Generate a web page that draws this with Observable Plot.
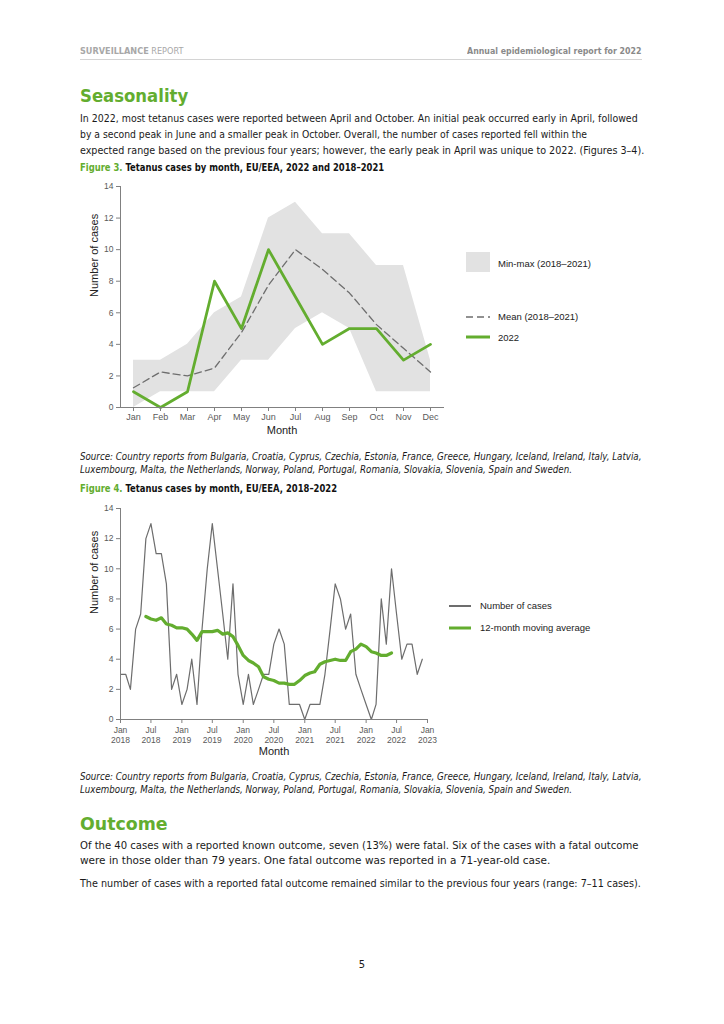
<!DOCTYPE html>
<html>
<head>
<meta charset="utf-8">
<script src="https://cdn.jsdelivr.net/npm/d3@7"></script>
<script src="https://cdn.jsdelivr.net/npm/@observablehq/plot@0.6"></script>
<style>
  html, body { margin: 0; padding: 0; background: #fff; }
  #page { position: relative; width: 724px; height: 1024px; overflow: hidden;
          font-family: "DejaVu Sans Condensed", "DejaVu Sans", sans-serif; color: #1a1a1a; }
  .ln { position: absolute; left: 80px; white-space: nowrap; transform-origin: 0 50%; }
  .body { font-size: 11px; line-height: 16px; }
  .head { font-size: 18px; line-height: 24px; font-weight: bold; color: #63ad2f; }
  .cap { font-size: 11px; line-height: 16px; font-weight: bold; color: #111; }
  .cap span { color: #63ad2f; }
  .src { font-size: 10px; line-height: 13px; font-style: italic; }
  .hdr { font-size: 8px; line-height: 12px; }
  .chart { position: absolute; }
  .leg { position: absolute; font-family: "Liberation Sans", Arial, sans-serif; font-size: 9.5px;
         line-height: 12px; color: #222; white-space: nowrap; }
  .sw { position: absolute; }
</style>
</head>
<body>
<div id="page">
  <div class="ln hdr" data-w="103" style="top:46px;color:#a8a8a8"><b>SURVEILLANCE</b> REPORT</div>
  <div class="ln hdr" data-w="175" style="top:46px;left:auto;right:82px;transform-origin:100% 50%;color:#8a8a8a;font-weight:bold">Annual epidemiological report for 2022</div>
  <div style="position:absolute;left:80px;top:59px;width:562px;height:1px;background:#d4d4d4"></div>

  <div class="ln head" data-w="108" style="top:84px">Seasonality</div>
  <div class="ln body" data-w="558" style="top:111px">In 2022, most tetanus cases were reported between April and October. An initial peak occurred early in April, followed</div>
  <div class="ln body" data-w="507" style="top:127px">by a second peak in June and a smaller peak in October. Overall, the number of cases reported fell within the</div>
  <div class="ln body" data-w="564" style="top:143px">expected range based on the previous four years; however, the early peak in April was unique to 2022. (Figures 3–4).</div>

  <div class="ln cap g-cap" style="top:160px"><span>Figure 3.</span> Tetanus cases by month, EU/EEA, 2022 and 2018–2021</div>
  <div class="chart" id="fig3" style="left:60px;top:176px"></div>

  <div class="sw" style="left:466px;top:252px;width:24px;height:20px;background:#e2e2e2"></div>
  <div class="leg" style="left:498px;top:258px">Min-max (2018–2021)</div>
  <svg class="sw" style="left:466px;top:312px" width="24" height="10"><line x1="0" y1="5" x2="24" y2="5" stroke="#6e6e6e" stroke-width="1.4" stroke-dasharray="7,4"/></svg>
  <div class="leg" style="left:498px;top:311px">Mean (2018–2021)</div>
  <svg class="sw" style="left:466px;top:332px" width="24" height="10"><line x1="0" y1="5" x2="24" y2="5" stroke="#63ad2f" stroke-width="3"/></svg>
  <div class="leg" style="left:498px;top:332px">2022</div>

  <div class="ln src g-src" style="top:450px">Source: Country reports from Bulgaria, Croatia, Cyprus, Czechia, Estonia, France, Greece, Hungary, Iceland, Ireland, Italy, Latvia,</div>
  <div class="ln src g-src" style="top:463px">Luxembourg, Malta, the Netherlands, Norway, Poland, Portugal, Romania, Slovakia, Slovenia, Spain and Sweden.</div>

  <div class="ln cap g-cap" style="top:481px"><span>Figure 4.</span> Tetanus cases by month, EU/EEA, 2018–2022</div>
  <div class="chart" id="fig4" style="left:60px;top:500px"></div>

  <svg class="sw" style="left:449px;top:601px" width="22" height="10"><line x1="0" y1="5" x2="22" y2="5" stroke="#6d6d6d" stroke-width="2"/></svg>
  <div class="leg" style="left:480px;top:600px">Number of cases</div>
  <svg class="sw" style="left:449px;top:623px" width="22" height="10"><line x1="0" y1="5" x2="22" y2="5" stroke="#63ad2f" stroke-width="3"/></svg>
  <div class="leg" style="left:480px;top:622px">12-month moving average</div>

  <div class="ln src g-src" style="top:770px">Source: Country reports from Bulgaria, Croatia, Cyprus, Czechia, Estonia, France, Greece, Hungary, Iceland, Ireland, Italy, Latvia,</div>
  <div class="ln src g-src" style="top:783px">Luxembourg, Malta, the Netherlands, Norway, Poland, Portugal, Romania, Slovakia, Slovenia, Spain and Sweden.</div>

  <div class="ln head" data-w="88" style="top:812px">Outcome</div>
  <div class="ln body" data-w="558" style="top:838px">Of the 40 cases with a reported known outcome, seven (13%) were fatal. Six of the cases with a fatal outcome</div>
  <div class="ln body" data-w="470" style="top:853px">were in those older than 79 years. One fatal outcome was reported in a 71-year-old case.</div>
  <div class="ln body" data-w="561" style="top:876px">The number of cases with a reported fatal outcome remained similar to the previous four years (range: 7–11 cases).</div>

  <div class="ln body" style="top:957px;left:357px;width:10px;text-align:center">5</div>
</div>

<script>
// ---------- data ----------
const months = ["Jan","Feb","Mar","Apr","May","Jun","Jul","Aug","Sep","Oct","Nov","Dec"];
const min2018_2021  = [0, 1, 1, 1, 3, 3, 5, 6, 5, 1, 1, 1];
const max2018_2021  = [3, 3, 4, 6, 7, 12, 13, 11, 11, 9, 9, 3];
const mean2018_2021 = [1.25, 2.25, 2, 2.5, 4.75, 7.75, 10, 8.75, 7.25, 5.25, 3.75, 2.25];

const cases2018 = [3, 3, 2, 6, 7, 12, 13, 11, 11, 9, 2, 3];
const cases2019 = [1, 2, 4, 1, 6, 10, 13, 10, 7, 4, 9, 3];
const cases2020 = [1, 3, 1, 2, 3, 3, 5, 6, 5, 1, 1, 1];
const cases2021 = [0, 1, 1, 1, 3, 6, 9, 8, 6, 7, 3, 2];
const cases2022 = [1, 0, 1, 8, 5, 10, 7, 4, 5, 5, 3, 4];

const yTicks = [0, 2, 4, 6, 8, 10, 12, 14];
const xTicks4 = ["2018-01","2018-07","2019-01","2019-07","2020-01","2020-07","2021-01","2021-07","2022-01","2022-07","2023-01"];

const green = "#63ad2f";
const axisGray = "#808080";
const labelGray = "#5a5a5a";
const font = "Liberation Sans, Arial, sans-serif";

// ---------- Figure 3 ----------
const t3 = months.map((m, i) => ({
  month: m, min: min2018_2021[i], max: max2018_2021[i], mean: mean2018_2021[i], y2022: cases2022[i]
}));

const fig3 = Plot.plot({
  width: 400, height: 270,
  marginLeft: 60, marginRight: 17, marginTop: 10, marginBottom: 39,
  style: { fontFamily: font, background: "transparent", overflow: "visible" },
  x: { type: "point", domain: months, padding: 0.48 },
  y: { domain: [0, 14] },
  marks: [
    Plot.areaY(t3, { x: "month", y1: "min", y2: "max", fill: "#e2e2e2" }),
    Plot.lineY(t3, { x: "month", y: "mean", stroke: "#6e6e6e", strokeWidth: 1.3, strokeDasharray: "7,4" }),
    Plot.lineY(t3, { x: "month", y: "y2022", stroke: green, strokeWidth: 2.8 }),
    Plot.axisY({ ticks: yTicks, tickSize: 4, tickPadding: 3, stroke: axisGray, fill: labelGray, fontSize: 8.5, label: null }),
    Plot.axisX({ tickSize: 4, tickPadding: 2, stroke: axisGray, fill: labelGray, fontSize: 9, label: null }),
    Plot.frame({ anchor: "left", stroke: axisGray }),
    Plot.frame({ anchor: "bottom", stroke: axisGray }),
    Plot.text(["Month"], { text: d => d, frameAnchor: "bottom", lineAnchor: "middle", dy: 23, fontSize: 11, fill: "#222" }),
    Plot.text(["Number of cases"], { text: d => d, frameAnchor: "left", lineAnchor: "middle", dx: -26, rotate: -90, fontSize: 11, fill: "#222" })
  ]
});
document.getElementById("fig3").append(fig3);

// ---------- Figure 4 ----------
const allCases = [...cases2018, ...cases2019, ...cases2020, ...cases2021, ...cases2022];
const t4 = allCases.map((v, i) => ({ date: new Date(Date.UTC(2018, i, 1)), cases: v }));
const parseMonth = d3.utcParse("%Y-%m");
const fmtMon = d3.utcFormat("%b");

const fig4 = Plot.plot({
  width: 400, height: 262,
  marginLeft: 60, marginRight: 33, marginTop: 8, marginBottom: 43,
  style: { fontFamily: font, background: "transparent", overflow: "visible" },
  x: { type: "utc", domain: [parseMonth("2018-01"), parseMonth("2023-01")] },
  y: { domain: [0, 14] },
  marks: [
    Plot.lineY(t4, { x: "date", y: "cases", stroke: "#6d6d6d", strokeWidth: 1.2 }),
    Plot.lineY(t4, Plot.windowY({ k: 12, anchor: "middle", strict: true }, { x: "date", y: "cases", stroke: green, strokeWidth: 3.2 })),
    Plot.axisY({ ticks: yTicks, tickSize: 4, tickPadding: 3, stroke: axisGray, fill: labelGray, fontSize: 8.5, label: null }),
    Plot.axisX({ ticks: xTicks4.map(parseMonth), tickFormat: d => `${fmtMon(d)}\n${d.getUTCFullYear()}`,
                 tickSize: 4, tickPadding: 2, stroke: axisGray, fill: labelGray, fontSize: 8.5, lineHeight: 1.2, label: null }),
    Plot.frame({ anchor: "left", stroke: axisGray }),
    Plot.frame({ anchor: "bottom", stroke: axisGray }),
    Plot.text(["Month"], { text: d => d, frameAnchor: "bottom", lineAnchor: "middle", dy: 32, fontSize: 11, fill: "#222" }),
    Plot.text(["Number of cases"], { text: d => d, frameAnchor: "left", lineAnchor: "middle", dx: -26, rotate: -90, fontSize: 11, fill: "#222" })
  ]
});
document.getElementById("fig4").append(fig4);

// ---------- fit text widths to the reference ----------
function fitGroup(sel, refWidth) {
  const els = [...document.querySelectorAll(sel)];
  if (!els.length) return;
  const k = refWidth / els[0].offsetWidth;
  els.forEach(e => { e.style.transform = `scaleX(${k})`; });
}
fitGroup(".g-cap", 304);
fitGroup(".g-src", 561);
document.querySelectorAll("[data-w]").forEach(e => {
  const k = +e.dataset.w / e.offsetWidth;
  e.style.transform = `scaleX(${k})`;
});
</script>
</body>
</html>
